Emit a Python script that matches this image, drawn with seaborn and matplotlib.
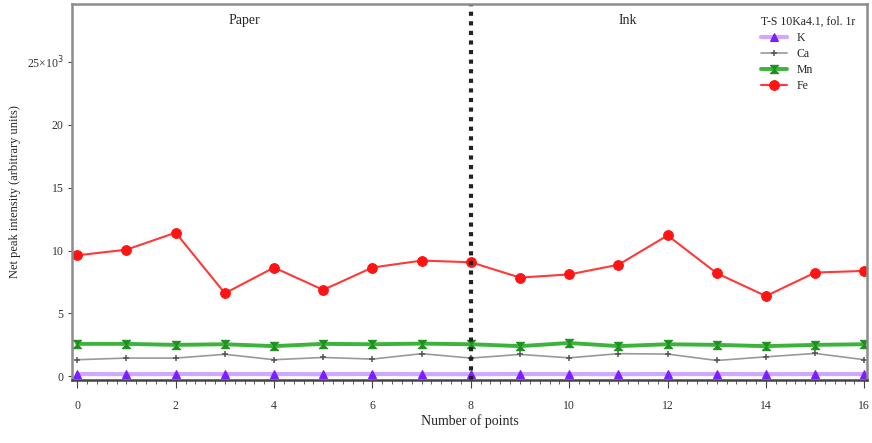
import matplotlib
matplotlib.use("Agg")
import matplotlib.pyplot as plt
from matplotlib.ticker import MultipleLocator
import seaborn as sns

sns.set_style("ticks")
plt.rcParams['font.family'] = ['Liberation Serif', 'DejaVu Serif']

# data (x10^3 counts)
points = list(range(17))
k_vals = [0.18, 0.17, 0.18, 0.18, 0.18, 0.17, 0.19, 0.17, 0.17, 0.18, 0.18, 0.17, 0.18, 0.18, 0.17, 0.18, 0.18]
ca_vals = [1.32, 1.45, 1.45, 1.75, 1.32, 1.5, 1.37, 1.8, 1.45, 1.74, 1.47, 1.8, 1.77, 1.26, 1.55, 1.82, 1.32]
mn_vals = [2.58, 2.58, 2.5, 2.55, 2.4, 2.58, 2.55, 2.6, 2.55, 2.4, 2.65, 2.4, 2.55, 2.5, 2.4, 2.5, 2.55]
fe_vals = [9.62, 10.07, 11.42, 6.6, 8.65, 6.87, 8.65, 9.2, 9.07, 7.85, 8.1, 8.87, 11.2, 8.2, 6.38, 8.25, 8.38]
ytick_labels = ['0', '5', '10', '15', '20', '25×10$^3$']

hourglass = [(-1, 1), (1, 1), (-1, -1), (1, -1), (-1, 1)]

fig = plt.figure(figsize=(8.72, 4.43), dpi=100)
ax = fig.add_axes([0.083, 0.142, 0.911, 0.849])

sns.lineplot(x=points, y=k_vals, ax=ax, color='#cfa8ff', lw=3, marker='^', ms=6,
             mfc='#7a1fff', mec='#7a1fff', label='K')
sns.lineplot(x=points, y=ca_vals, ax=ax, color='#999999', lw=1.2, marker='+', ms=5,
             mec='#555555', mew=1.1, label='Ca')
sns.lineplot(x=points, y=mn_vals, ax=ax, color='#3cb43c', lw=2.8, marker=hourglass, ms=6,
             mfc='#1f8f1f', mec='#1f8f1f', label='Mn')
sns.lineplot(x=points, y=fe_vals, ax=ax, color='#ff3838', lw=1.5, marker='o', ms=7,
             mfc='#ff1414', mec='#ff1414', label='Fe')

ax.axvline(8, color='#222222', ls=(0, (1, 1.3)), lw=3)
ax.text(3.4, 28.3, 'Paper', fontsize=10, ha='center', va='center')
ax.text(11.2, 28.3, 'Ink', fontsize=10, ha='center', va='center')

ax.set_xlim(-0.1, 16.05)
ax.set_ylim(-0.3, 29.6)
ax.set_xticks(range(0, 17, 2))
ax.xaxis.set_minor_locator(MultipleLocator(0.2))
ax.set_yticks([0, 5, 10, 15, 20, 25])
ax.set_yticklabels(ytick_labels)
ax.tick_params(axis='both', labelsize=8.5, color='#444444', labelcolor='#333333', direction='out')
ax.tick_params(axis='x', which='major', length=6, pad=8)
ax.tick_params(axis='x', which='minor', length=3, color='#444444')
ax.tick_params(axis='y', length=3)

for side in ['left', 'top', 'right', 'bottom']:
    ax.spines[side].set_visible(True)
    ax.spines[side].set_color('#8c8c8c')
    ax.spines[side].set_linewidth(1.8)
ax.spines['bottom'].set_color('#444444')

ax.set_xlabel('Number of points', fontsize=10, labelpad=2)
ax.set_ylabel('Net peak intensity (arbitrary units)', fontsize=9)

leg = ax.legend(title='T-S 10Ka4.1, fol. 1r', loc='upper right', frameon=False,
                fontsize=8.5, title_fontsize=8.5, handlelength=2.2, borderaxespad=0.6,
                labelspacing=0.35)
leg._legend_box.align = 'left'

fig.savefig('out.png', dpi=100)
